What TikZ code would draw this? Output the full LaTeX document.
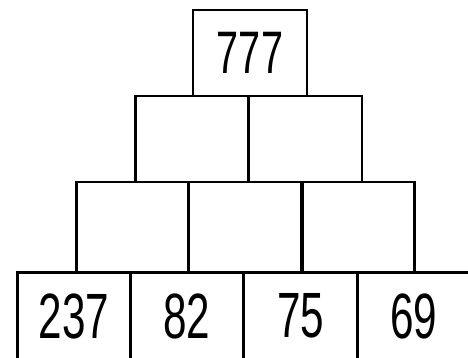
\documentclass[tikz,border=0pt]{standalone}
\usepackage{fontspec}
\setmainfont{Liberation Sans}
\tikzset{
  brick/.style={draw=black, line width=2.6pt, minimum width=113pt, minimum height=86pt, inner sep=0pt, fill=white},
  numtext/.style={font=\fontsize{64}{64}\selectfont},
}
\newcommand{\narrownum}[1]{\scalebox{0.66}[1]{#1}}
\begin{document}
\begin{tikzpicture}[x=1pt,y=-1pt]
\clip (0,0) rectangle (468,358);
\fill[white] (0,0) rectangle (468,358);
% row 3
\node[brick, minimum width=112pt, minimum height=90pt] (c1) at (132.5,227) {};
\node[brick, minimum width=112pt, minimum height=90pt] (c2) at (245,227) {};
\node[brick, minimum width=112pt, minimum height=90pt] (c3) at (358.5,227) {};
% row 2
\node[brick] (b1) at (192,139) {};
\node[brick] (b2) at (305.5,139) {};
% top
\node[brick, minimum width=114pt] (a1) at (250,53) {};
% bottom row
\node[brick, minimum height=87pt] (d1) at (74,316) {};
\node[brick, minimum height=87pt] (d2) at (187,316) {};
\node[brick, minimum height=87pt] (d3) at (300.5,316) {};
\node[brick, minimum height=87pt] (d4) at (414,316) {};
% labels
\node[numtext, font=\fontsize{60}{60}\selectfont] (t777) at (a1.center) {\narrownum{777}};
\node[numtext] (t237) at (d1.center) {\narrownum{237}};
\node[numtext] (t82) at (d2.center) {\narrownum{82}};
\node[numtext] (t75) at (d3.center) {\narrownum{75}};
\node[numtext] (t69) at (d4.center) {\narrownum{69}};
\end{tikzpicture}
\end{document}
